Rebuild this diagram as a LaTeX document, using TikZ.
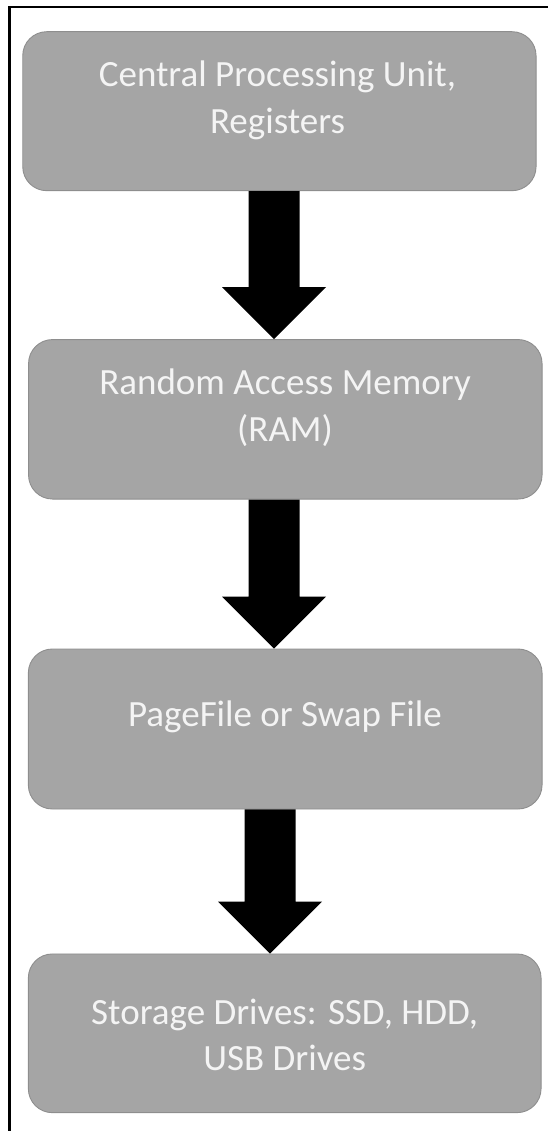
\documentclass[tikz,border=0pt]{standalone}
\usepackage{fontspec}
\setmainfont{Carlito}
\usetikzlibrary{calc}

\definecolor{boxfill}{HTML}{A5A5A5}
\definecolor{boxline}{HTML}{8E8E8E}
\definecolor{boxtext}{HTML}{F4F4F4}

\tikzset{
  stage/.style={draw=boxline, line width=0.9pt, fill=boxfill,
    rounded corners=24pt, inner sep=0pt},
  stagetext/.style={anchor=base, text=boxtext, inner sep=0pt,
    font=\fontsize{37}{46}\selectfont},
  flowfill/.style={fill=black},
  frameline/.style={draw=black}
}

% block arrow from the bottom of #2 to the top of #3, centred at x = #1
\newcommand\flowarrow[3]{%
  \fill[flowfill] let \p1=(#2.south), \p2=(#3.north) in
    ({#1pt-25.5pt},\y1) -- ({#1pt+25.5pt},\y1) --
    ({#1pt+25.5pt},{\y2+52pt}) -- ({#1pt+52pt},{\y2+52pt}) --
    ({#1pt},\y2) --
    ({#1pt-52pt},{\y2+52pt}) -- ({#1pt-25.5pt},{\y2+52pt}) -- cycle;}

\begin{document}
\begin{tikzpicture}[x=1pt,y=-1pt]
  \useasboundingbox (0,0) rectangle (548,1131);

  % frame edges
  \draw[frameline, line width=3pt] (9.5,1131) -- (9.5,5.8);
  \draw[frameline, line width=2.4pt] (8,7) -- (548,7);

  % memory hierarchy stages
  \node[stage, minimum width=513.3pt, minimum height=159pt] (cpu) at (279.4,111.2) {};
  \node[stage, minimum width=513.5pt, minimum height=159.5pt] (ram) at (285.3,419.3) {};
  \node[stage, minimum width=513.7pt, minimum height=160pt] (page) at (285.2,729) {};
  \node[stage, minimum width=512.7pt, minimum height=158.7pt] (disk) at (284.7,1033.3) {};

  % stage labels
  \node[stagetext] (cpu-l1) at (277.5,87) {Central Processing Unit,};
  \node[stagetext] (cpu-l2) at (277.5,134) {Registers};
  \node[stagetext] (ram-l1) at (285,394) {Random Access Memory};
  \node[stagetext] (ram-l2) at (285,441) {(RAM)};
  \node[stagetext] (page-l1) at (285,726) {PageFile or Swap File};
  \node[stagetext] (disk-l1) at (284.7,1024) {Storage Drives: SSD, HDD,};
  \node[stagetext] (disk-l2) at (284.7,1070) {USB Drives};

  % arrows between stages
  \flowarrow{274}{cpu}{ram}
  \flowarrow{274}{ram}{page}
  \flowarrow{270}{page}{disk}
\end{tikzpicture}
\end{document}
